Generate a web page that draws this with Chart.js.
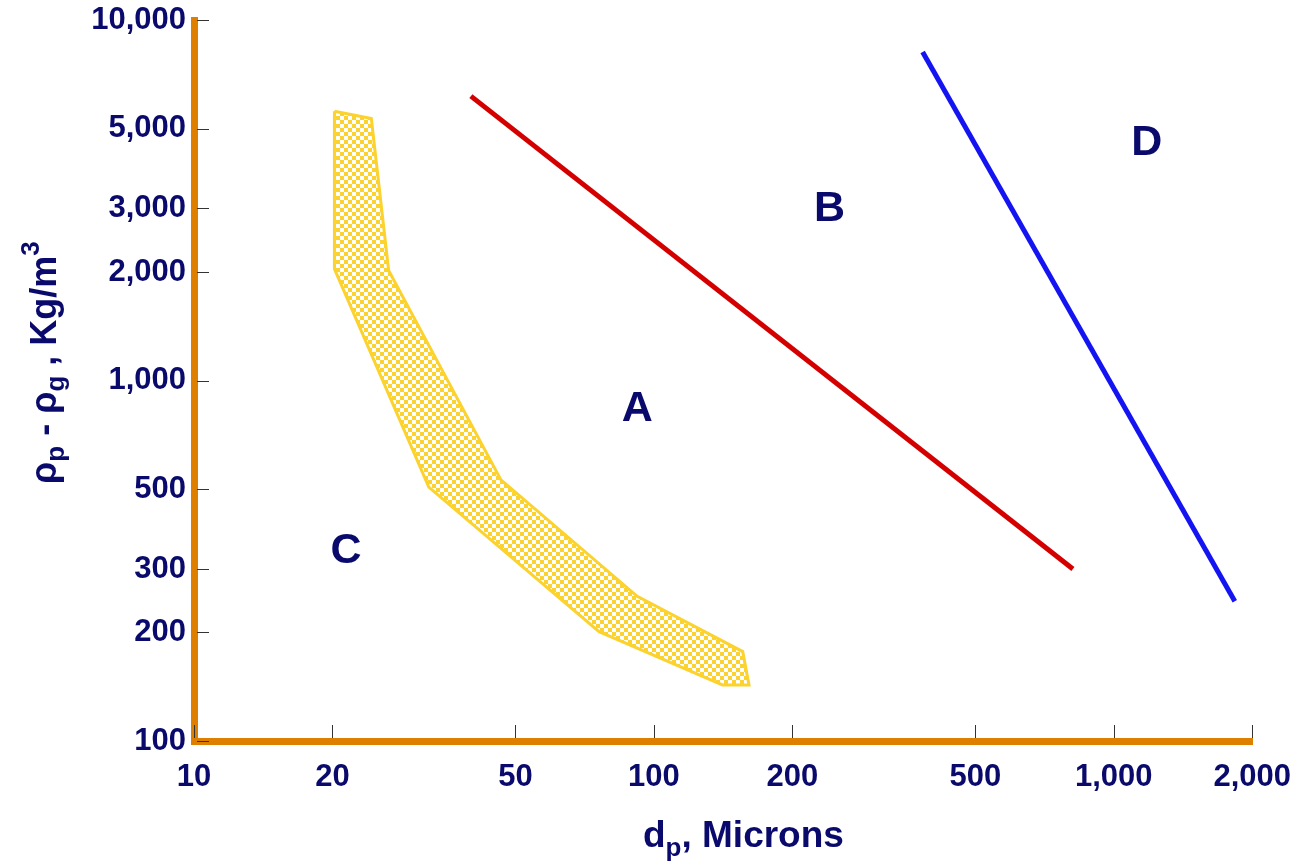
<!DOCTYPE html>
<html>
<head>
<meta charset="utf-8">
<script src="https://cdn.jsdelivr.net/npm/chart.js@4.4.1/dist/chart.umd.min.js"></script>
<style>
  html, body { margin: 0; padding: 0; background: #fff; }
</style>
</head>
<body>
<canvas id="chart" width="1301" height="866"></canvas>
<script>
// axis ticks
const xTicks = [10, 20, 50, 100, 200, 500, 1000, 2000];
const xTickLabels = ["10", "20", "50", "100", "200", "500", "1,000", "2,000"];
const yTicks = [100, 200, 300, 500, 1000, 2000, 3000, 5000, 10000];
const yTickLabels = ["100", "200", "300", "500", "1,000", "2,000", "3,000", "5,000", "10,000"];

// shaded band (closed outline)
const bandX = [20.2, 24.3, 26.5, 46.5, 92, 156, 161, 141, 76, 32.4, 20.2, 20.2];
const bandY = [5580, 5330, 2020, 530, 252, 177, 143, 143, 201, 506, 2040, 5580];

// boundary lines
const redX = [40, 815];
const redY = [6150, 300];
const blueX = [384, 1833];
const blueY = [8150, 244];

// region labels
const regionNames = ["A", "B", "C", "D"];
const regionX = [92, 241, 21.4, 1180];
const regionY = [833, 2980, 336, 4550];

const NAVY = "#0a0a6c";
const ORANGE = "#de7f00";
const YELLOW = "#fcd22e";
const FONT = "Arial, 'Liberation Sans', sans-serif";

const toPoints = (xs, ys) => xs.map((x, i) => ({ x: x, y: ys[i] }));

// checkered fill for the band
const tile = document.createElement("canvas");
tile.width = 8;
tile.height = 8;
const tctx = tile.getContext("2d");
tctx.fillStyle = YELLOW;
tctx.fillRect(0, 0, 8, 8);
tctx.fillStyle = "#ffffff";
tctx.fillRect(0, 0, 4, 4);
tctx.fillRect(4, 4, 4, 4);
const pattern = tctx.createPattern(tile, "repeat");

const extras = {
  id: "extras",
  afterDatasetsDraw(chart) {
    const { ctx, scales } = chart;
    ctx.save();
    // region letters
    ctx.fillStyle = NAVY;
    ctx.font = "bold 43px " + FONT;
    ctx.textAlign = "center";
    ctx.textBaseline = "middle";
    regionNames.forEach((n, i) => {
      ctx.fillText(n, scales.x.getPixelForValue(regionX[i]), scales.y.getPixelForValue(regionY[i]));
    });
    ctx.restore();
  },
  afterDraw(chart) {
    const { ctx, chartArea, scales } = chart;
    ctx.save();
    // tick marks inside the axes
    ctx.strokeStyle = "#333";
    ctx.lineWidth = 1;
    ctx.beginPath();
    yTicks.forEach(v => {
      const y = Math.round(scales.y.getPixelForValue(v)) + 0.5;
      ctx.moveTo(chartArea.left + 3, y);
      ctx.lineTo(chartArea.left + 15, y);
    });
    xTicks.forEach(v => {
      const x = Math.round(scales.x.getPixelForValue(v)) + 0.5;
      ctx.moveTo(x, chartArea.bottom - 3);
      ctx.lineTo(x, chartArea.bottom - 16);
    });
    ctx.stroke();

    // x title: d_p, Microns
    ctx.fillStyle = NAVY;
    ctx.textAlign = "left";
    ctx.textBaseline = "alphabetic";
    let x = 643, base = 847;
    ctx.font = "bold 37px " + FONT;
    ctx.fillText("d", x, base);
    x += ctx.measureText("d").width;
    ctx.font = "bold 26px " + FONT;
    ctx.fillText("p", x, base + 9);
    x += ctx.measureText("p").width;
    ctx.font = "bold 37px " + FONT;
    ctx.fillText(", Microns", x, base);

    // y title: rho_p - rho_g , Kg/m^3
    ctx.translate(56, 484);
    ctx.rotate(-Math.PI / 2);
    const parts = [
      ["\u03c1", 36, 0], ["p", 26, 8], [" - ", 36, 0], ["\u03c1", 36, 0],
      ["g", 26, 8], [" , Kg/m", 36, 0], ["3", 26, -17]
    ];
    let px = 0;
    parts.forEach(([t, size, dy]) => {
      ctx.font = "bold " + size + "px " + FONT;
      ctx.fillText(t, px, dy);
      px += ctx.measureText(t).width;
    });
    ctx.restore();
  }
};

new Chart(document.getElementById("chart"), {
  type: "scatter",
  data: {
    datasets: [
      {
        data: toPoints(bandX, bandY),
        showLine: true,
        fill: "shape",
        backgroundColor: pattern,
        borderColor: YELLOW,
        borderWidth: 3,
        pointRadius: 0,
        tension: 0
      },
      {
        data: toPoints(redX, redY),
        showLine: true,
        borderColor: "#d40000",
        borderWidth: 5,
        pointRadius: 0
      },
      {
        data: toPoints(blueX, blueY),
        showLine: true,
        borderColor: "#1414f2",
        borderWidth: 5,
        pointRadius: 0
      }
    ]
  },
  options: {
    responsive: false,
    animation: false,
    layout: { padding: { top: 20, right: 48, left: 0, bottom: 0 } },
    plugins: { legend: { display: false }, tooltip: { enabled: false } },
    scales: {
      x: {
        type: "logarithmic",
        min: 10,
        max: 2000,
        afterBuildTicks: s => { s.ticks = xTicks.map(v => ({ value: v })); },
        afterFit: s => { s.height = 125; },
        grid: { display: false },
        border: { display: true, color: ORANGE, width: 7 },
        ticks: {
          autoSkip: false,
          maxRotation: 0,
          padding: 10,
          color: NAVY,
          font: { family: FONT, size: 31, weight: "bold" },
          callback: (v, i) => xTickLabels[i]
        }
      },
      y: {
        type: "logarithmic",
        min: 100,
        max: 10000,
        afterBuildTicks: s => { s.ticks = yTicks.map(v => ({ value: v })); },
        afterFit: s => { s.width = 194; },
        grid: { display: false },
        border: { display: true, color: ORANGE, width: 7 },
        ticks: {
          autoSkip: false,
          padding: 0,
          color: NAVY,
          font: { family: FONT, size: 31, weight: "bold" },
          callback: (v, i) => yTickLabels[i]
        }
      }
    }
  },
  plugins: [extras]
});
</script>
</body>
</html>
